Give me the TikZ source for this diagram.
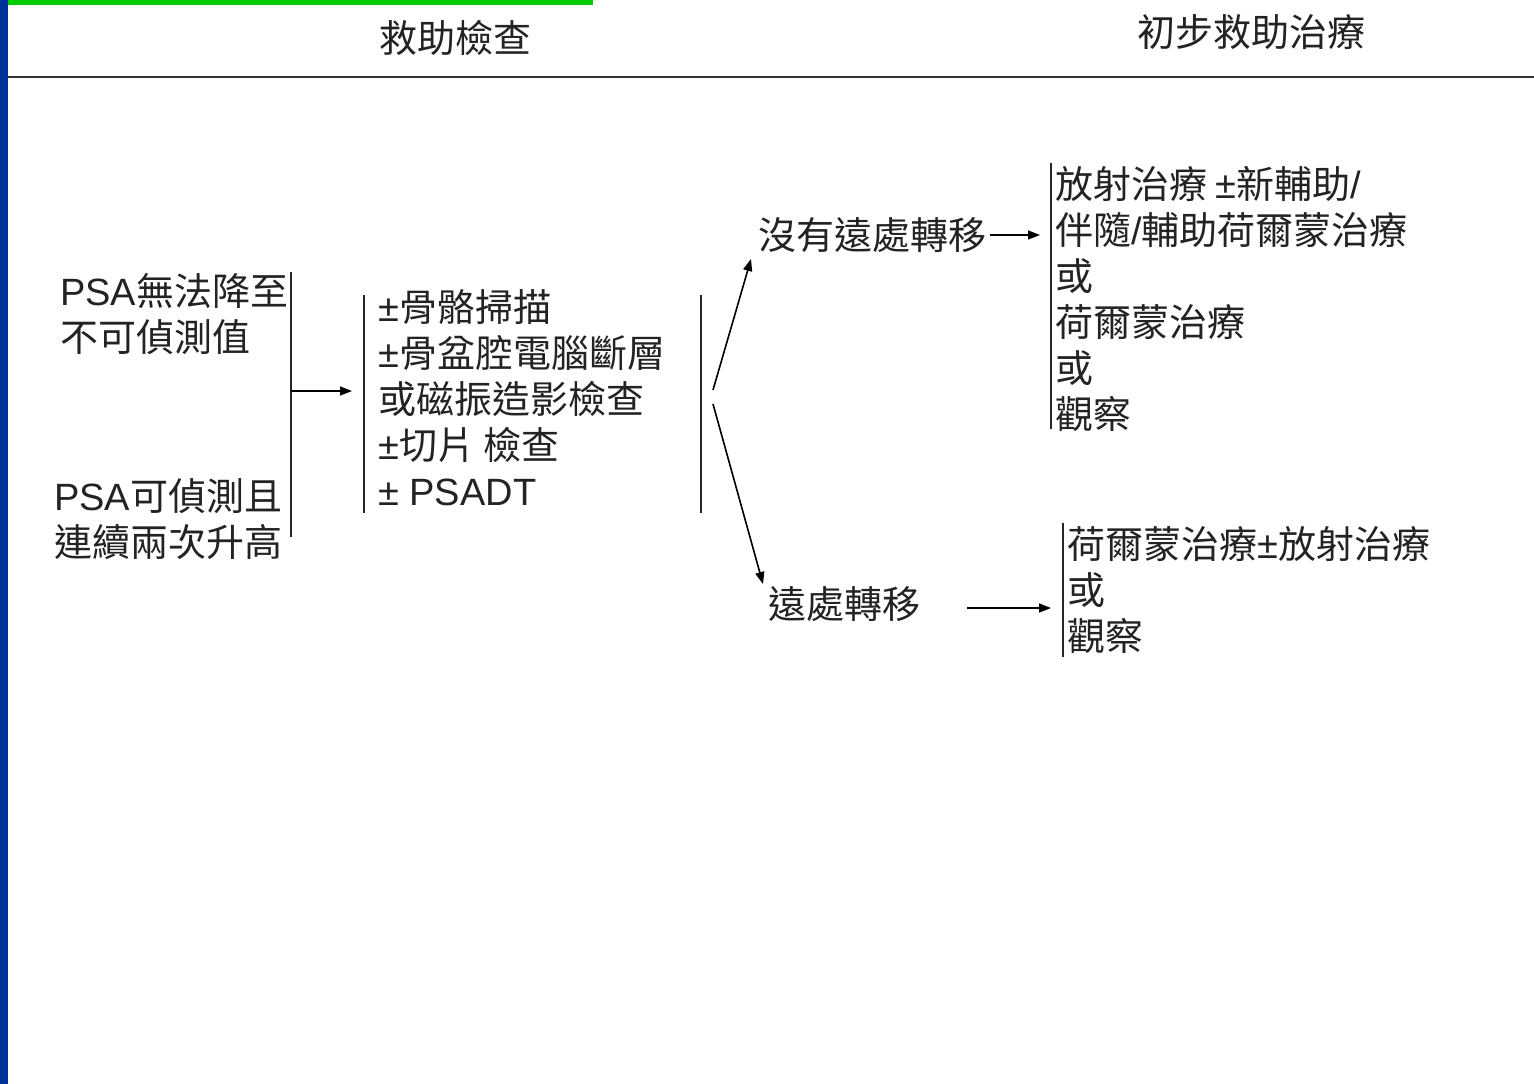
\documentclass[tikz,border=0pt]{standalone}
\usepackage{fontspec}
\setmainfont{Noto Sans CJK TC}
\newfontfamily\lat{Liberation Sans}
\usetikzlibrary{arrows.meta}
\definecolor{barblue}{RGB}{0,51,153}
\definecolor{bargreen}{RGB}{0,204,0}
\definecolor{textc}{RGB}{35,35,35}
\begin{document}
\begin{tikzpicture}[x=1pt,y=-1pt,
  txt/.style={inner sep=0pt, align=left, anchor=west, text=textc,
    font=\fontsize{38}{46}\selectfont},
  hdr/.style={inner sep=0pt, anchor=center, text=textc,
    font=\fontsize{38}{46}\selectfont},
  bar/.style={line width=1.6pt, draw=black!85},
  arr/.style={line width=1.6pt, draw=black, -{Triangle[length=12pt,width=9pt]}}]
\useasboundingbox (0,0) rectangle (1534,1084);
% frame decorations
\fill[barblue] (0,0) rectangle (8,1084);
\fill[bargreen] (8,0) rectangle (593,5);
\draw[line width=2pt, black!80] (8,76.5) -- (1534,76.5);
% headers
\node[hdr] (h1) at (455,38) {救助檢查};
\node[hdr] (h2) at (1251,32) {初步救助治療};
% left blocks
\node[txt] (a) at (60,314) {{\lat PSA}無法降至\\不可偵測值};
\node[txt] (b) at (54,519) {{\lat PSA}可偵測且\\連續兩次升高};
% middle block
\node[txt] (m) at (378,398) {{\lat ±}骨骼掃描\\{\lat ±}骨盆腔電腦斷層\\或磁振造影檢查\\{\lat ±}切片 檢查\\{\lat ± PSADT}};
% outcomes
\node[txt] (n) at (758,235) {沒有遠處轉移};
\node[txt] (d) at (768,604) {遠處轉移};
% treatments
\node[txt] (r1) at (1055,298.5) {放射治療 {\lat ±}新輔助{\lat /}\\伴隨{\lat /}輔助荷爾蒙治療\\或\\荷爾蒙治療\\或\\觀察};
\node[txt] (r2) at (1067,590.5) {荷爾蒙治療{\lat ±}放射治療\\或\\觀察};
% brackets
\coordinate (lb1) at (291,272);
\coordinate (lb2) at (291,537);
\coordinate (lbm) at (291,391);
\coordinate (mb1) at (364,295);
\coordinate (mb2) at (364,513);
\coordinate (mc1) at (701,295);
\coordinate (mc2) at (701,513);
\coordinate (rb1) at (1051,163);
\coordinate (rb2) at (1051,429);
\coordinate (rc1) at (1063,523);
\coordinate (rc2) at (1063,657);
\draw[bar] (lb1) -- (lb2);
\draw[bar] (mb1) -- (mb2);
\draw[bar] (mc1) -- (mc2);
\draw[bar] (rb1) -- (rb2);
\draw[bar] (rc1) -- (rc2);
% split points
\coordinate (s1) at (713,390);
\coordinate (t1) at (751,259);
\coordinate (s2) at (713,404);
\coordinate (t2) at (763,584);
% arrows
\draw[arr, shorten >=26pt] (lbm) -- (lbm -| m.west);
\draw[arr] (s1) -- (t1);
\draw[arr] (s2) -- (t2);
\draw[arr, shorten <=4pt, shorten >=15pt] (n.east) -- (n.east -| r1.west);
\draw[arr, shorten <=47pt, shorten >=16pt] ([yshift=-4pt]d.east) -- ([yshift=-4pt]d.east -| r2.west);
\end{tikzpicture}
\end{document}
